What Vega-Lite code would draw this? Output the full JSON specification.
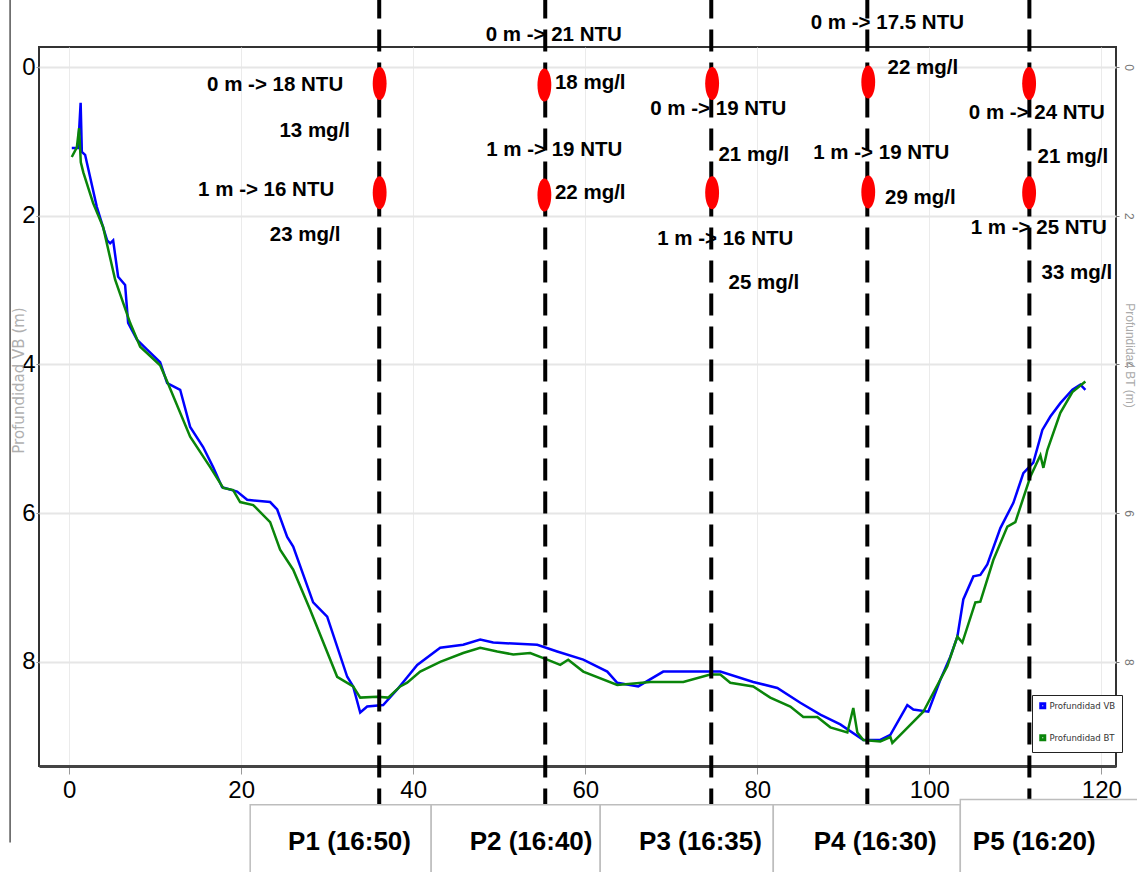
{
  "$schema": "https://vega.github.io/schema/vega-lite/v6.json",
  "width": 1077,
  "height": 719,
  "autosize": {"type": "none"},
  "padding": {"left": 39, "top": 47, "right": 21, "bottom": 106},
  "background": "white",
  "config": {"font": "Liberation Sans", "view": {"stroke": "#333", "strokeWidth": 2}},
  "datasets": {
    "curves": [
      {"s": "Profundidad VB", "x": 0.31, "y": 1.09},
      {"s": "Profundidad VB", "x": 1.05, "y": 1.09},
      {"s": "Profundidad VB", "x": 1.34, "y": 0.48},
      {"s": "Profundidad VB", "x": 1.48, "y": 1.14},
      {"s": "Profundidad VB", "x": 1.86, "y": 1.18},
      {"s": "Profundidad VB", "x": 3.22, "y": 1.88},
      {"s": "Profundidad VB", "x": 4.42, "y": 2.33},
      {"s": "Profundidad VB", "x": 4.77, "y": 2.37},
      {"s": "Profundidad VB", "x": 5.12, "y": 2.33},
      {"s": "Profundidad VB", "x": 5.70, "y": 2.82},
      {"s": "Profundidad VB", "x": 6.51, "y": 2.93},
      {"s": "Profundidad VB", "x": 6.86, "y": 3.44},
      {"s": "Profundidad VB", "x": 7.91, "y": 3.67},
      {"s": "Profundidad VB", "x": 9.07, "y": 3.80},
      {"s": "Profundidad VB", "x": 10.58, "y": 3.97},
      {"s": "Profundidad VB", "x": 11.40, "y": 4.25},
      {"s": "Profundidad VB", "x": 12.91, "y": 4.34},
      {"s": "Profundidad VB", "x": 14.07, "y": 4.84},
      {"s": "Profundidad VB", "x": 15.58, "y": 5.11},
      {"s": "Profundidad VB", "x": 16.74, "y": 5.38},
      {"s": "Profundidad VB", "x": 17.79, "y": 5.65},
      {"s": "Profundidad VB", "x": 19.53, "y": 5.71},
      {"s": "Profundidad VB", "x": 20.70, "y": 5.82},
      {"s": "Profundidad VB", "x": 23.37, "y": 5.85},
      {"s": "Profundidad VB", "x": 24.19, "y": 5.95},
      {"s": "Profundidad VB", "x": 25.35, "y": 6.32},
      {"s": "Profundidad VB", "x": 26.05, "y": 6.45},
      {"s": "Profundidad VB", "x": 28.37, "y": 7.20},
      {"s": "Profundidad VB", "x": 30.00, "y": 7.39},
      {"s": "Profundidad VB", "x": 32.33, "y": 8.20},
      {"s": "Profundidad VB", "x": 33.02, "y": 8.33},
      {"s": "Profundidad VB", "x": 33.84, "y": 8.68},
      {"s": "Profundidad VB", "x": 34.65, "y": 8.60},
      {"s": "Profundidad VB", "x": 36.51, "y": 8.58},
      {"s": "Profundidad VB", "x": 38.14, "y": 8.37},
      {"s": "Profundidad VB", "x": 40.47, "y": 8.04},
      {"s": "Profundidad VB", "x": 43.14, "y": 7.81},
      {"s": "Profundidad VB", "x": 45.81, "y": 7.77},
      {"s": "Profundidad VB", "x": 47.79, "y": 7.70},
      {"s": "Profundidad VB", "x": 49.30, "y": 7.74},
      {"s": "Profundidad VB", "x": 54.42, "y": 7.77},
      {"s": "Profundidad VB", "x": 56.74, "y": 7.86},
      {"s": "Profundidad VB", "x": 59.77, "y": 7.97},
      {"s": "Profundidad VB", "x": 62.56, "y": 8.13},
      {"s": "Profundidad VB", "x": 63.72, "y": 8.28},
      {"s": "Profundidad VB", "x": 66.16, "y": 8.33},
      {"s": "Profundidad VB", "x": 69.07, "y": 8.13},
      {"s": "Profundidad VB", "x": 73.02, "y": 8.13},
      {"s": "Profundidad VB", "x": 75.70, "y": 8.13},
      {"s": "Profundidad VB", "x": 79.53, "y": 8.27},
      {"s": "Profundidad VB", "x": 82.33, "y": 8.35},
      {"s": "Profundidad VB", "x": 85.00, "y": 8.55},
      {"s": "Profundidad VB", "x": 87.33, "y": 8.71},
      {"s": "Profundidad VB", "x": 89.65, "y": 8.84},
      {"s": "Profundidad VB", "x": 92.33, "y": 9.05},
      {"s": "Profundidad VB", "x": 94.30, "y": 9.05},
      {"s": "Profundidad VB", "x": 95.47, "y": 8.98},
      {"s": "Profundidad VB", "x": 97.44, "y": 8.58},
      {"s": "Profundidad VB", "x": 98.14, "y": 8.64},
      {"s": "Profundidad VB", "x": 99.88, "y": 8.67},
      {"s": "Profundidad VB", "x": 101.28, "y": 8.24},
      {"s": "Profundidad VB", "x": 102.44, "y": 7.93},
      {"s": "Profundidad VB", "x": 103.26, "y": 7.66},
      {"s": "Profundidad VB", "x": 103.95, "y": 7.16},
      {"s": "Profundidad VB", "x": 105.12, "y": 6.85},
      {"s": "Profundidad VB", "x": 105.93, "y": 6.83},
      {"s": "Profundidad VB", "x": 106.74, "y": 6.69},
      {"s": "Profundidad VB", "x": 108.26, "y": 6.20},
      {"s": "Profundidad VB", "x": 109.77, "y": 5.86},
      {"s": "Profundidad VB", "x": 110.93, "y": 5.46},
      {"s": "Profundidad VB", "x": 112.09, "y": 5.32},
      {"s": "Profundidad VB", "x": 113.14, "y": 4.88},
      {"s": "Profundidad VB", "x": 114.07, "y": 4.70},
      {"s": "Profundidad VB", "x": 115.23, "y": 4.52},
      {"s": "Profundidad VB", "x": 116.63, "y": 4.34},
      {"s": "Profundidad VB", "x": 117.56, "y": 4.27},
      {"s": "Profundidad VB", "x": 118.14, "y": 4.34},
      {"s": "Profundidad BT", "x": 0.31, "y": 1.21},
      {"s": "Profundidad BT", "x": 0.90, "y": 1.08},
      {"s": "Profundidad BT", "x": 1.16, "y": 0.82},
      {"s": "Profundidad BT", "x": 1.36, "y": 1.28},
      {"s": "Profundidad BT", "x": 1.66, "y": 1.42},
      {"s": "Profundidad BT", "x": 2.79, "y": 1.83},
      {"s": "Profundidad BT", "x": 3.95, "y": 2.15},
      {"s": "Profundidad BT", "x": 5.35, "y": 2.86},
      {"s": "Profundidad BT", "x": 7.09, "y": 3.44},
      {"s": "Profundidad BT", "x": 8.26, "y": 3.76},
      {"s": "Profundidad BT", "x": 10.58, "y": 4.01},
      {"s": "Profundidad BT", "x": 11.40, "y": 4.23},
      {"s": "Profundidad BT", "x": 14.07, "y": 4.97},
      {"s": "Profundidad BT", "x": 16.40, "y": 5.38},
      {"s": "Profundidad BT", "x": 17.91, "y": 5.66},
      {"s": "Profundidad BT", "x": 19.07, "y": 5.69},
      {"s": "Profundidad BT", "x": 19.88, "y": 5.85},
      {"s": "Profundidad BT", "x": 21.40, "y": 5.89},
      {"s": "Profundidad BT", "x": 23.37, "y": 6.12},
      {"s": "Profundidad BT", "x": 24.53, "y": 6.49},
      {"s": "Profundidad BT", "x": 26.05, "y": 6.76},
      {"s": "Profundidad BT", "x": 28.02, "y": 7.30},
      {"s": "Profundidad BT", "x": 31.16, "y": 8.20},
      {"s": "Profundidad BT", "x": 33.02, "y": 8.33},
      {"s": "Profundidad BT", "x": 33.84, "y": 8.48},
      {"s": "Profundidad BT", "x": 35.81, "y": 8.47},
      {"s": "Profundidad BT", "x": 37.09, "y": 8.48},
      {"s": "Profundidad BT", "x": 38.49, "y": 8.33},
      {"s": "Profundidad BT", "x": 39.30, "y": 8.28},
      {"s": "Profundidad BT", "x": 40.81, "y": 8.13},
      {"s": "Profundidad BT", "x": 43.14, "y": 8.00},
      {"s": "Profundidad BT", "x": 45.81, "y": 7.88},
      {"s": "Profundidad BT", "x": 47.79, "y": 7.81},
      {"s": "Profundidad BT", "x": 49.77, "y": 7.86},
      {"s": "Profundidad BT", "x": 51.63, "y": 7.90},
      {"s": "Profundidad BT", "x": 53.60, "y": 7.88},
      {"s": "Profundidad BT", "x": 55.58, "y": 7.97},
      {"s": "Profundidad BT", "x": 57.09, "y": 8.04},
      {"s": "Profundidad BT", "x": 58.02, "y": 7.97},
      {"s": "Profundidad BT", "x": 59.77, "y": 8.13},
      {"s": "Profundidad BT", "x": 63.72, "y": 8.31},
      {"s": "Profundidad BT", "x": 67.56, "y": 8.27},
      {"s": "Profundidad BT", "x": 71.40, "y": 8.27},
      {"s": "Profundidad BT", "x": 74.53, "y": 8.17},
      {"s": "Profundidad BT", "x": 75.70, "y": 8.17},
      {"s": "Profundidad BT", "x": 76.86, "y": 8.28},
      {"s": "Profundidad BT", "x": 79.53, "y": 8.33},
      {"s": "Profundidad BT", "x": 81.51, "y": 8.48},
      {"s": "Profundidad BT", "x": 83.84, "y": 8.60},
      {"s": "Profundidad BT", "x": 85.35, "y": 8.74},
      {"s": "Profundidad BT", "x": 86.98, "y": 8.74},
      {"s": "Profundidad BT", "x": 88.49, "y": 8.88},
      {"s": "Profundidad BT", "x": 90.47, "y": 8.95},
      {"s": "Profundidad BT", "x": 91.16, "y": 8.62},
      {"s": "Profundidad BT", "x": 91.63, "y": 8.95},
      {"s": "Profundidad BT", "x": 92.33, "y": 9.05},
      {"s": "Profundidad BT", "x": 94.30, "y": 9.07},
      {"s": "Profundidad BT", "x": 95.47, "y": 9.01},
      {"s": "Profundidad BT", "x": 95.70, "y": 9.09},
      {"s": "Profundidad BT", "x": 96.98, "y": 8.94},
      {"s": "Profundidad BT", "x": 99.30, "y": 8.67},
      {"s": "Profundidad BT", "x": 102.09, "y": 8.06},
      {"s": "Profundidad BT", "x": 103.26, "y": 7.66},
      {"s": "Profundidad BT", "x": 103.84, "y": 7.74},
      {"s": "Profundidad BT", "x": 105.35, "y": 7.20},
      {"s": "Profundidad BT", "x": 105.93, "y": 7.19},
      {"s": "Profundidad BT", "x": 107.44, "y": 6.63},
      {"s": "Profundidad BT", "x": 109.07, "y": 6.18},
      {"s": "Profundidad BT", "x": 110.00, "y": 6.12},
      {"s": "Profundidad BT", "x": 111.74, "y": 5.51},
      {"s": "Profundidad BT", "x": 112.91, "y": 5.22},
      {"s": "Profundidad BT", "x": 113.26, "y": 5.39},
      {"s": "Profundidad BT", "x": 113.72, "y": 5.15},
      {"s": "Profundidad BT", "x": 115.23, "y": 4.65},
      {"s": "Profundidad BT", "x": 116.63, "y": 4.37},
      {"s": "Profundidad BT", "x": 118.14, "y": 4.23}
    ],
    "rules": [
      {"x": 36.05, "y1": -0.95, "y2": 10.9},
      {"x": 55.35, "y1": -0.95, "y2": 10.9},
      {"x": 74.65, "y1": -0.95, "y2": 10.9},
      {"x": 92.79, "y1": -0.95, "y2": 10.9},
      {"x": 111.63, "y1": -0.95, "y2": 10.9}
    ],
    "frame": [
      {"x": -6.86, "y1": -0.95, "y2": 10.43}
    ],
    "samples": [
      {"x": 36.1, "y": 0.22}, {"x": 36.1, "y": 1.69},
      {"x": 55.25, "y": 0.24}, {"x": 55.25, "y": 1.72},
      {"x": 74.75, "y": 0.22}, {"x": 74.75, "y": 1.69},
      {"x": 92.9, "y": 0.2}, {"x": 92.9, "y": 1.68},
      {"x": 111.6, "y": 0.22}, {"x": 111.6, "y": 1.69}
    ],
    "notes": [
      {"t": "0 m ->  18 NTU", "x": 23.95, "y": 0.24},
      {"t": "13 mg/l", "x": 28.55, "y": 0.86},
      {"t": "1 m ->  16 NTU", "x": 22.91, "y": 1.65},
      {"t": "23 mg/l", "x": 27.44, "y": 2.26},
      {"t": "0 m -> 21 NTU", "x": 56.34, "y": -0.43},
      {"t": "18 mg/l", "x": 60.58, "y": 0.22},
      {"t": "1 m -> 19 NTU", "x": 56.4, "y": 1.12},
      {"t": "22 mg/l", "x": 60.58, "y": 1.69},
      {"t": "0 m -> 19 NTU", "x": 75.47, "y": 0.56},
      {"t": "21 mg/l", "x": 79.59, "y": 1.18},
      {"t": "1 m -> 16 NTU", "x": 76.28, "y": 2.31},
      {"t": "25 mg/l", "x": 80.76, "y": 2.9},
      {"t": "0 m -> 17.5 NTU", "x": 95.12, "y": -0.59},
      {"t": "22 mg/l", "x": 99.24, "y": 0.01},
      {"t": "1 m -> 19 NTU", "x": 94.42, "y": 1.16},
      {"t": "29 mg/l", "x": 98.95, "y": 1.76},
      {"t": "0 m -> 24 NTU", "x": 112.5, "y": 0.62},
      {"t": "21 mg/l", "x": 116.69, "y": 1.21},
      {"t": "1 m -> 25 NTU", "x": 112.73, "y": 2.16},
      {"t": "33 mg/l", "x": 117.15, "y": 2.77}
    ],
    "boxes": [
      {"p": "P1 (16:50)", "x1": 21.05, "x2": 42.09, "xm": 32.6, "y1": 9.92, "y2": 11.2, "ym": 10.42},
      {"p": "P2 (16:40)", "x1": 42.09, "x2": 61.74, "xm": 53.7, "y1": 9.92, "y2": 11.2, "ym": 10.42},
      {"p": "P3 (16:35)", "x1": 61.74, "x2": 81.86, "xm": 73.4, "y1": 9.92, "y2": 11.2, "ym": 10.42},
      {"p": "P4 (16:30)", "x1": 81.86, "x2": 103.6, "xm": 93.7, "y1": 9.92, "y2": 11.2, "ym": 10.42},
      {"p": "P5 (16:20)", "x1": 103.6, "x2": 124.5, "xm": 112.2, "y1": 9.85, "y2": 11.2, "ym": 10.42}
    ]
  },
  "resolve": {"axis": {"y": "independent"}},
  "layer": [
    {
      "data": {"name": "curves"},
      "transform": [{"filter": "datum.s === 'Profundidad VB'"}],
      "mark": {"type": "line", "strokeWidth": 2.5, "clip": false},
      "encoding": {
        "x": {"field": "x", "type": "quantitative",
          "scale": {"domain": [-3.5, 121.7], "nice": false, "zero": false},
          "axis": {"values": [0, 20, 40, 60, 80, 100, 120], "title": null, "grid": true, "gridColor": "#ebebeb", "gridWidth": 1,
            "domainColor": "#444", "domainWidth": 3, "tickColor": "#999", "tickSize": 8, "labelFontSize": 24, "labelColor": "#000",
            "labelPadding": 4, "labelFont": "Liberation Sans"}},
        "y": {"field": "y", "type": "quantitative",
          "scale": {"domain": [-0.27, 9.4], "nice": false, "zero": false, "reverse": true},
          "axis": {"orient": "left", "values": [0, 2, 4, 6, 8], "grid": true, "gridColor": "#e6e6e6", "gridWidth": 2,
            "domain": false, "tickColor": "#999", "tickSize": 3, "labelFontSize": 24, "labelColor": "#000", "labelPadding": 1,
            "title": "Profundidad VB (m)", "titleColor": "#b0b0b0", "titleFontSize": 15, "titleFont": "DejaVu Sans", "titleFontWeight": "normal",
            "titleX": -21, "titleY": 333, "titleAlign": "center", "titleBaseline": "middle", "titleAngle": -90}},
        "color": {"field": "s", "type": "nominal",
          "scale": {"domain": ["Profundidad VB", "Profundidad BT"], "range": ["#0000ff", "#0a850a"]},
          "legend": {"orient": "none", "legendX": 993, "legendY": 648, "title": null, "strokeColor": "#222",
            "padding": 6, "fillColor": "white", "labelFont": "Liberation Sans Narrow, DejaVu Sans Condensed", "labelFontSize": 9.5, "labelColor": "#333",
            "symbolType": "square", "symbolSize": 16, "symbolStrokeWidth": 3, "rowPadding": 15, "labelOffset": 2}}
      }
    },
    {
      "data": {"name": "curves"},
      "transform": [{"filter": "datum.s === 'Profundidad BT'"}],
      "mark": {"type": "line", "strokeWidth": 2.5, "clip": false},
      "encoding": {
        "x": {"field": "x", "type": "quantitative", "scale": {"domain": [-3.5, 121.7], "nice": false, "zero": false}},
        "y": {"field": "y", "type": "quantitative",
          "scale": {"domain": [-0.27, 9.4], "nice": false, "zero": false, "reverse": true},
          "axis": {"orient": "right", "values": [0, 2, 4, 6, 8], "grid": false, "domain": false, "tickColor": "#777", "tickSize": 3,
            "labelFontSize": 12, "labelColor": "#777", "labelAngle": 90, "labelAlign": "center", "labelBaseline": "bottom", "labelPadding": 2,
            "title": "Profundidad BT (m)", "titleColor": "#aaa", "titleFontSize": 12, "titleFontWeight": "normal",
            "titleX": 13, "titleY": 308, "titleAngle": 90, "titleAlign": "center", "titleBaseline": "middle"}},
        "color": {"field": "s", "type": "nominal",
          "scale": {"domain": ["Profundidad VB", "Profundidad BT"], "range": ["#0000ff", "#0a850a"]}}
      }
    },
    {
      "data": {"name": "frame"},
      "mark": {"type": "rule", "color": "#555", "strokeWidth": 1.5, "clip": false},
      "encoding": {
        "x": {"field": "x", "type": "quantitative", "scale": {"domain": [-3.5, 121.7], "nice": false, "zero": false}},
        "y": {"field": "y1", "type": "quantitative", "scale": {"domain": [-0.27, 9.4], "nice": false, "zero": false, "reverse": true}, "axis": null},
        "y2": {"field": "y2"}
      }
    },
    {
      "data": {"name": "rules"},
      "mark": {"type": "rule", "color": "#000", "strokeWidth": 4, "strokeDash": [22, 11], "clip": false},
      "encoding": {
        "x": {"field": "x", "type": "quantitative", "scale": {"domain": [-3.5, 121.7], "nice": false, "zero": false}},
        "y": {"field": "y1", "type": "quantitative", "scale": {"domain": [-0.27, 9.4], "nice": false, "zero": false, "reverse": true}, "axis": null},
        "y2": {"field": "y2"}
      }
    },
    {
      "data": {"name": "samples"},
      "mark": {"type": "point", "filled": true, "color": "#ff0000", "opacity": 1, "size": 1089, "strokeWidth": 0, "clip": false,
        "shape": "M0,-1C0.232,-1,0.42,-0.552,0.42,0C0.42,0.552,0.232,1,0,1C-0.232,1,-0.42,0.552,-0.42,0C-0.42,-0.552,-0.232,-1,0,-1Z"},
      "encoding": {
        "x": {"field": "x", "type": "quantitative", "scale": {"domain": [-3.5, 121.7], "nice": false, "zero": false}},
        "y": {"field": "y", "type": "quantitative", "scale": {"domain": [-0.27, 9.4], "nice": false, "zero": false, "reverse": true}, "axis": null}
      }
    },
    {
      "data": {"name": "notes"},
      "mark": {"type": "text", "fontSize": 20.5, "fontWeight": "bold", "color": "#000", "align": "center", "baseline": "middle", "clip": false},
      "encoding": {
        "x": {"field": "x", "type": "quantitative", "scale": {"domain": [-3.5, 121.7], "nice": false, "zero": false}},
        "y": {"field": "y", "type": "quantitative", "scale": {"domain": [-0.27, 9.4], "nice": false, "zero": false, "reverse": true}, "axis": null},
        "text": {"field": "t"}
      }
    },
    {
      "data": {"name": "boxes"},
      "mark": {"type": "rect", "fill": "white", "stroke": "#bdbdbd", "strokeWidth": 1.5, "clip": false},
      "encoding": {
        "x": {"field": "x1", "type": "quantitative", "scale": {"domain": [-3.5, 121.7], "nice": false, "zero": false}},
        "x2": {"field": "x2"},
        "y": {"field": "y1", "type": "quantitative", "scale": {"domain": [-0.27, 9.4], "nice": false, "zero": false, "reverse": true}, "axis": null},
        "y2": {"field": "y2"}
      }
    },
    {
      "data": {"name": "boxes"},
      "mark": {"type": "text", "fontSize": 26, "fontWeight": "bold", "color": "#000", "align": "center", "baseline": "middle", "clip": false},
      "encoding": {
        "x": {"field": "xm", "type": "quantitative", "scale": {"domain": [-3.5, 121.7], "nice": false, "zero": false}},
        "y": {"field": "ym", "type": "quantitative", "scale": {"domain": [-0.27, 9.4], "nice": false, "zero": false, "reverse": true}, "axis": null},
        "text": {"field": "p"}
      }
    }
  ]
}
